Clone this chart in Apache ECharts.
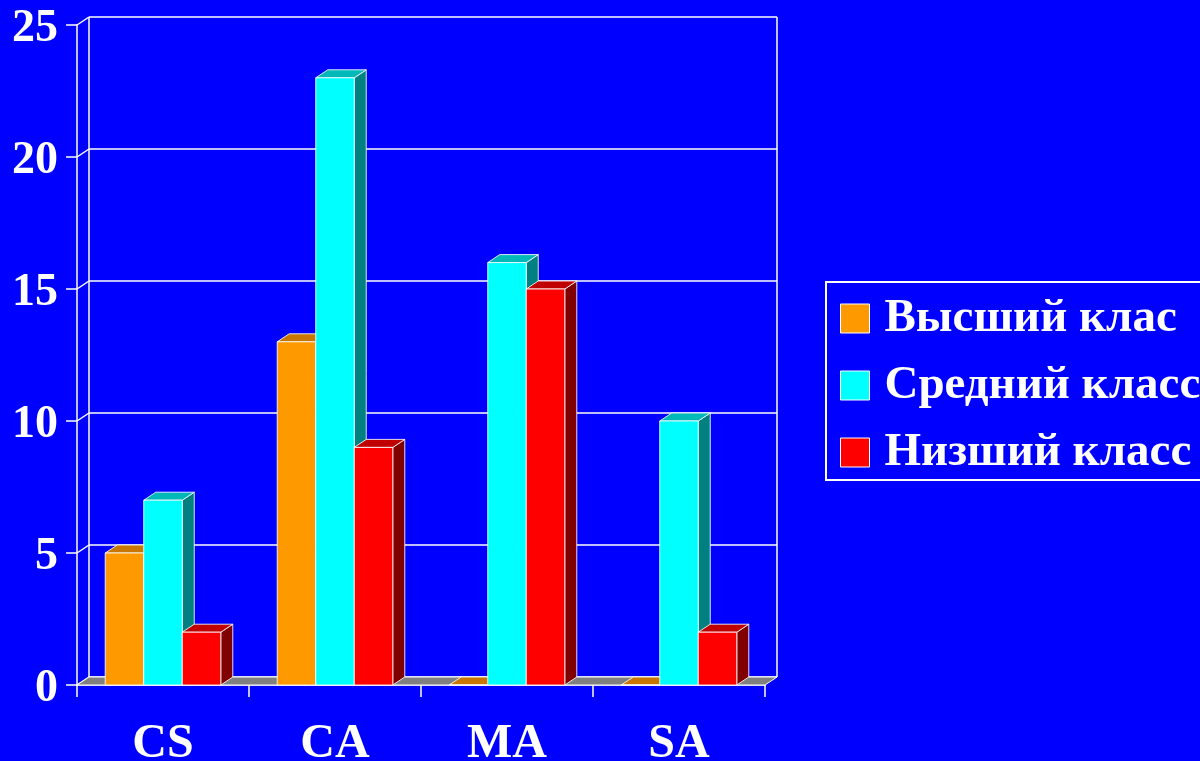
<!DOCTYPE html>
<html>
<head>
<meta charset="utf-8">
<script src="https://cdn.jsdelivr.net/npm/echarts@6/dist/echarts.min.js"></script>
<style>
html,body{margin:0;padding:0;background:#0000FF;}
#chart{width:1200px;height:761px;}
</style>
</head>
<body>
<div id="chart"></div>
<script>
const categories = ['CS', 'CA', 'MA', 'SA'];
const seriesNames = ['Высший клас', 'Средний класс', 'Низший класс'];
const highClass = [5, 13, 0, 0];
const middleClass = [7, 23, 16, 10];
const lowClass = [2, 9, 15, 2];
const yTicks = [0, 5, 10, 15, 20, 25];

const DX = 12, DY = 8;
const FONT = '"Liberation Serif", "Times New Roman", serif';
const palettes = [
  {front: '#FF9900', top: '#C87800', side: '#996000'},
  {front: '#00FFFF', top: '#00B8B8', side: '#008080'},
  {front: '#FF0000', top: '#C00000', side: '#800000'}
];
const seriesData = [highClass, middleClass, lowClass];

const chart = echarts.init(document.getElementById('chart'), null, {renderer: 'canvas'});

function wallRender(params, api) {
  const cs = params.coordSys;
  const v = api.value(1);
  const y = api.coord([0, v])[1];
  const xl = cs.x, xr = cs.x + cs.width;
  const st = {stroke: '#FFFFFF', lineWidth: 1.5, fill: null};
  const children = [
    {type: 'line', shape: {x1: xl + DX, y1: y - DY, x2: xr + DX, y2: y - DY}, style: st},
    {type: 'line', shape: {x1: xl, y1: y, x2: xl + DX, y2: y - DY}, style: st}
  ];
  if (params.dataIndex === 0) {
    const yTop = api.coord([0, yTicks[yTicks.length - 1]])[1];
    children.push({type: 'line', shape: {x1: xl + DX, y1: y - DY, x2: xl + DX, y2: yTop - DY}, style: st});
    children.push({type: 'line', shape: {x1: xr + DX, y1: y - DY, x2: xr + DX, y2: yTop - DY}, style: st});
    children.push({type: 'polygon', shape: {points: [[xl, y], [xr, y], [xr + DX, y - DY], [xl + DX, y - DY]]},
      style: {fill: '#808080', stroke: '#FFFFFF', lineWidth: 1}});
  }
  return {type: 'group', children: children};
}

function barRenderFactory(idx) {
  const pal = palettes[idx];
  return function (params, api) {
    const top = api.coord([api.value(0), api.value(1)]);
    const base = api.coord([api.value(0), 0]);
    const band = api.size([1, 0])[0];
    const w = band * 0.224;
    const x0 = top[0] - 1.5 * w + idx * w;
    const x1 = x0 + w;
    const yt = top[1], yb = base[1];
    const ls = {stroke: 'rgba(255,255,255,0.85)', lineWidth: 1};
    return {type: 'group', children: [
      {type: 'polygon', shape: {points: [[x1, yt], [x1 + DX, yt - DY], [x1 + DX, yb - DY], [x1, yb]]},
        style: Object.assign({fill: pal.side}, ls)},
      {type: 'polygon', shape: {points: [[x0, yt], [x1, yt], [x1 + DX, yt - DY], [x0 + DX, yt - DY]]},
        style: Object.assign({fill: pal.top}, ls)},
      {type: 'rect', shape: {x: x0, y: yt, width: w, height: yb - yt},
        style: Object.assign({fill: pal.front}, ls)}
    ]};
  };
}

const series = [{
  type: 'custom',
  name: '__wall',
  renderItem: wallRender,
  data: yTicks.map(v => [0, v]),
  encode: {x: 0, y: 1},
  z: 1,
  silent: true,
  clip: false
}];
seriesData.forEach((arr, i) => {
  series.push({
    type: 'custom',
    name: seriesNames[i],
    renderItem: barRenderFactory(i),
    data: arr.map((v, k) => [k, v]),
    encode: {x: 0, y: 1},
    itemStyle: {color: palettes[i].front},
    z: 3 + i,
    clip: false
  });
});

chart.setOption({
  backgroundColor: '#0000FF',
  animation: false,
  grid: {left: 77, top: 25, width: 688, height: 660, containLabel: false, outerBoundsMode: 'none'},
  xAxis: {
    type: 'category',
    data: categories,
    axisLine: {lineStyle: {color: '#FFFFFF', width: 1.5}},
    axisTick: {show: true, length: 12, lineStyle: {color: '#FFFFFF', width: 1.5}},
    axisLabel: {color: '#FFFFFF', fontSize: 48, fontWeight: 'bold', fontFamily: FONT, margin: 36}
  },
  yAxis: {
    type: 'value',
    min: 0, max: 25, interval: 5,
    axisLine: {show: true, lineStyle: {color: '#FFFFFF', width: 1.5}},
    axisTick: {show: true, length: 11, lineStyle: {color: '#FFFFFF', width: 1.5}},
    axisLabel: {color: '#FFFFFF', fontSize: 46, fontWeight: 'bold', fontFamily: FONT, margin: 19,
      verticalAlign: 'top', lineHeight: 9},
    splitLine: {show: false}
  },
  legend: {
    data: seriesNames,
    orient: 'vertical',
    left: 826, top: 282,
    borderColor: '#FFFFFF', borderWidth: 2,
    padding: [13, 40, 4, 14],
    itemGap: 20,
    itemWidth: 29, itemHeight: 29,
    icon: 'rect',
    selectedMode: false,
    itemStyle: {borderColor: '#FFFFFF', borderWidth: 1},
    textStyle: {color: '#FFFFFF', fontSize: 47, fontWeight: 'bold', fontFamily: FONT, padding: [0, 0, 0, 10]}
  },
  series: series
});
</script>
</body>
</html>
